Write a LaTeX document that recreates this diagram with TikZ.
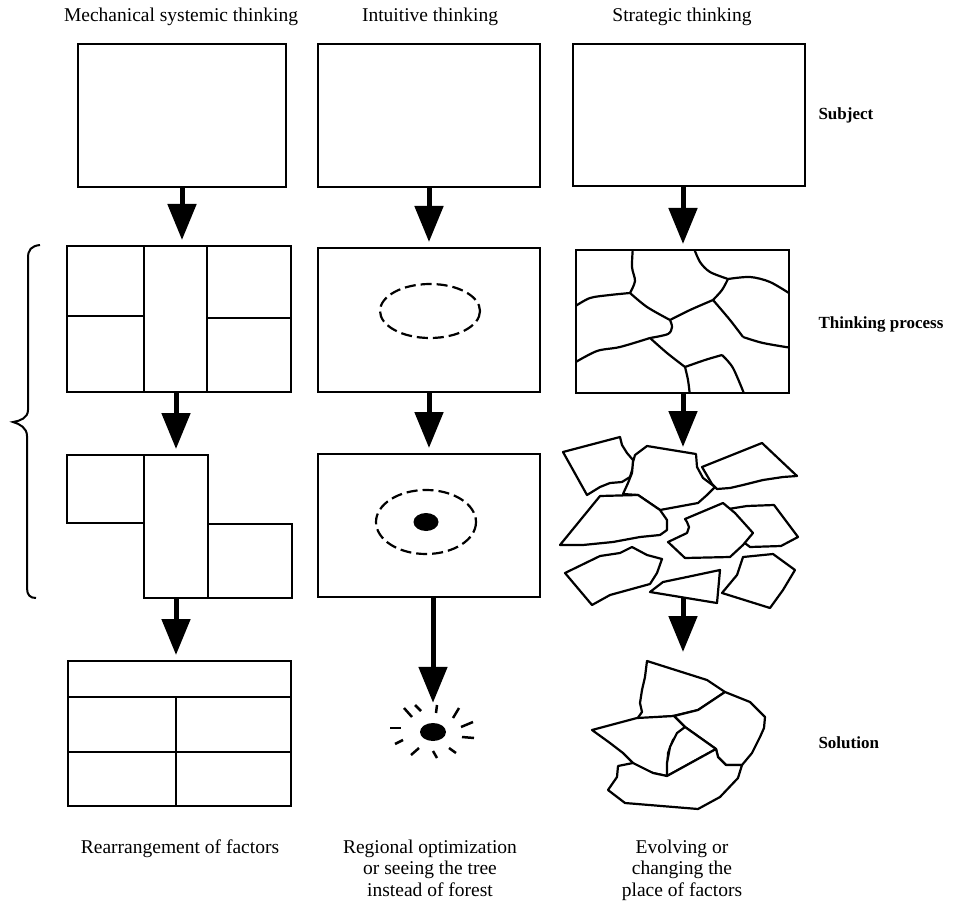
\documentclass[tikz,border=0pt]{standalone}
\usepackage{fontspec}
\setmainfont{Liberation Serif}
\usetikzlibrary{arrows.meta, positioning, shapes.geometric}

\tikzset{
  main box/.style={draw, line width=2.6pt, inner sep=0pt, outer sep=0pt},
  flow arrow/.style={line width=5pt, -{Triangle[length=36pt,width=28pt]}, shorten >=6pt},
  dash ring/.style={line width=2.2pt, dash pattern=on 11pt off 5pt},
  dot/.style={ellipse, fill, inner sep=0pt},
  piece/.style={draw, line width=2.2pt, fill=white, line join=round},
  crack/.style={line width=2.2pt},
  head/.style={font=\fontsize{19.5}{22}\selectfont},
  side/.style={font=\fontsize{17}{21}\selectfont\bfseries, anchor=west},
  foot/.style={font=\fontsize{19.5}{21.5}\selectfont, align=center, anchor=north}
}

\begin{document}
\begin{tikzpicture}[x=1pt, y=-1pt]
\useasboundingbox (0,0) rectangle (955,901);

% headers
\node[head] (h1) at (181,17) {Mechanical systemic thinking};
\node[head] (h2) at (430,17) {Intuitive thinking};
\node[head] (h3) at (682,17) {Strategic thinking};

% subject row
\node[main box, minimum width=208pt, minimum height=143pt] (s1) at (182,115.5) {};
\node[main box, minimum width=222pt, minimum height=143pt] (s2) at (429,115.5) {};
\node[main box, minimum width=232pt, minimum height=142pt] (s3) at (689,115) {};

% thinking process, first step
\node[main box, minimum width=224pt, minimum height=146pt] (p1) at (179,319) {};
\draw[crack] (144,246) -- (144,392) (207,246) -- (207,392);
\draw[crack] (67,316) -- (144,316) (207,318) -- (291,318);

\node[main box, minimum width=222pt, minimum height=144pt] (p2) at (429,320) {};
\draw[dash ring] (430,311) ellipse [x radius=50, y radius=27];

\node[main box, minimum width=213pt, minimum height=143pt] (p3) at (682.5,321.5) {};
\begin{scope}
  \clip (576,250) rectangle (789,393);
  \draw[crack] plot[smooth] coordinates {(633,246) (632,267) (635,281) (630,293)};
  \draw[crack] plot[smooth] coordinates {(630,293) (610,295) (590,298) (574,307)};
  \draw[crack] plot[smooth] coordinates {(630,293) (647,307) (670,320)};
  \draw[crack] plot[smooth] coordinates {(670,320) (690,310) (713,300)};
  \draw[crack] plot[smooth] coordinates {(713,300) (722,290) (728,279)};
  \draw[crack] plot[smooth] coordinates {(728,279) (710,272) (700,262) (693,246)};
  \draw[crack] plot[smooth] coordinates {(728,279) (750,277) (770,282) (792,295)};
  \draw[crack] plot[smooth] coordinates {(713,300) (730,320) (743,337)};
  \draw[crack] plot[smooth] coordinates {(743,337) (763,343) (792,348)};
  \draw[crack] plot[smooth] coordinates {(670,320) (672,327) (668,334) (650,338)};
  \draw[crack] plot[smooth] coordinates {(650,338) (620,347) (597,351) (574,363)};
  \draw[crack] plot[smooth] coordinates {(650,338) (667,353) (685,367)};
  \draw[crack] plot[smooth] coordinates {(685,367) (705,360) (722,355)};
  \draw[crack] plot[smooth] coordinates {(722,355) (733,368) (745,396)};
  \draw[crack] plot[smooth] coordinates {(685,367) (688,380) (690,396)};
\end{scope}

% thinking process, second step
\node[main box, minimum width=64pt, minimum height=143pt] (q1) at (176,526.5) {};
\node[main box, minimum width=77pt, minimum height=68pt, anchor=north east] (q1l) at (q1.north west) {};
\node[main box, minimum width=84pt, minimum height=74pt, anchor=south west] (q1r) at (q1.south east) {};

\node[main box, minimum width=222pt, minimum height=143pt] (q2) at (429,525.5) {};
\draw[dash ring] (426,522) ellipse [x radius=50, y radius=32];
\node[dot, minimum width=25pt, minimum height=18pt] (d2) at (426,522) {};

% broken pieces
\coordinate (q3) at (683,447);
\draw[piece] (563,452) -- (620,437) -- (622,445) -- (627,453) -- (633,460) -- (633,467) -- (630,477) -- (622,482) -- (610,483) -- (600,487) -- (587,495) -- cycle;
\draw[piece] (635,455) -- (647,446) -- (696,454) -- (697,467) -- (703,478) -- (715,487) -- (707,495) -- (698,503) -- (660,510) -- (638,495) -- (623,494) -- (628,483) -- (632,473) -- (633,462) -- cycle;
\draw[piece] (702,467) -- (762,443) -- (797,476) -- (783,477) -- (763,480) -- (743,485) -- (730,488) -- (717,489) -- (712,484) -- cycle;
\draw[piece] (600,496) -- (638,495) -- (660,510) -- (667,520) -- (667,530) -- (660,535) -- (640,537) -- (613,542) -- (583,545) -- (560,545) -- cycle;
\draw[piece] (722,510) -- (747,506) -- (774,505) -- (798,537) -- (781,546) -- (750,547) -- (738,538) -- cycle;
\draw[piece] (685,519) -- (723,503) -- (735,513) -- (753,533) -- (743,545) -- (730,557) -- (685,558) -- (668,542) -- (687,533) -- (689,527) -- (687,522) -- cycle;
\draw[piece] (565,573) -- (600,556) -- (620,553) -- (632,547) -- (647,555) -- (662,559) -- (657,573) -- (650,584) -- (610,595) -- (592,605) -- cycle;
\draw[piece] (650,592) -- (663,582) -- (687,577) -- (720,570) -- (717,603) -- cycle;
\draw[piece] (722,593) -- (737,575) -- (743,557) -- (773,554) -- (795,570) -- (783,590) -- (770,608) -- cycle;
\coordinate (q3b) at (683,598);

% brace
\draw[line width=2pt] (40,245) .. controls (31,246) and (28,250) .. (28,258) -- (28,410)
  .. controls (28,418) and (20,421) .. (13,422) .. controls (20,424) and (27,428) .. (27,436)
  -- (27,588) .. controls (27,595) and (30,598) .. (36,598);

% solutions
\node[main box, minimum width=223pt, minimum height=145pt] (r1) at (179.5,733.5) {};
\draw[crack] (68,697) -- (291,697) (68,752) -- (291,752) (176,697) -- (176,806);

\node[dot, minimum width=26pt, minimum height=18pt] (r2) at (433,732) {};
\foreach \a/\b/\c/\d in {404/708/412/717, 415/705/421/711, 437/705/436/713, 459/708/453/718,
    473/722/461/727, 474/738/462/737, 456/753/449/748, 437/758/433/751,
    411/755/419/748, 395/744/403/740, 390/728/401/728}
  \draw[line width=2.5pt] (\a,\b) -- (\c,\d);

\coordinate (r3) at (683,652);
\draw[piece] (647,661) -- (707,680) -- (725,692) -- (698,710) -- (673,716) -- (637,719) -- (642,712) -- (640,703) -- (642,690) -- (645,677) -- cycle;
\draw[piece] (698,710) -- (725,692) -- (750,702) -- (765,717) -- (764,728) -- (760,737) -- (752,753) -- (742,765) -- (726,765) -- (718,757) -- (716,749) -- (685,727) -- (674,716) -- cycle;
\draw[piece] (592,730) -- (637,718) -- (674,716) -- (685,727) -- (673,740) -- (668,753) -- (667,776) -- (653,773) -- (637,767) -- (623,753) -- (610,743) -- cycle;
\draw[piece] (685,727) -- (716,749) -- (667,776) -- (667,763) -- (670,747) -- (677,733) -- cycle;
\draw[piece] (633,763) -- (618,766) -- (617,777) -- (608,790) -- (625,803) -- (698,809) -- (720,797) -- (738,778) -- (742,765) -- (726,765) -- (718,757) -- (716,749) -- (667,776) -- (653,773) -- cycle;

% arrows
\draw[flow arrow] (s1.south) -- (s1.south |- p1.north);
\draw[flow arrow] (s2.south) -- (s2.south |- p2.north);
\draw[flow arrow] (s3.south -| q3) -- (q3 |- p3.north);
\draw[flow arrow] (p1.south -| q1) -- (q1.north);
\draw[flow arrow] (p2.south) -- (p2.south |- q2.north);
\draw[flow arrow, shorten >=0pt] (p3.south -| q3) -- (q3);
\draw[flow arrow] (q1.south) -- (q1.south |- r1.north);
\draw[flow arrow, shorten >=20pt] (q2.south -| r2) -- (r2);
\draw[flow arrow, shorten >=0pt] (q3b) -- (r3);

% row labels
\node[side] (l1) at (815,115) {Subject};
\node[side] (l2) at (815,324) {Thinking process};
\node[side] (l3) at (815,743) {Solution};

% footers
\node[foot] (f1) at (180,836) {Rearrangement of factors};
\node[foot] (f2) at (430,836) {Regional optimization\\or seeing the tree\\instead of forest};
\node[foot] (f3) at (682,836) {Evolving or\\changing the\\place of factors};
\end{tikzpicture}
\end{document}
